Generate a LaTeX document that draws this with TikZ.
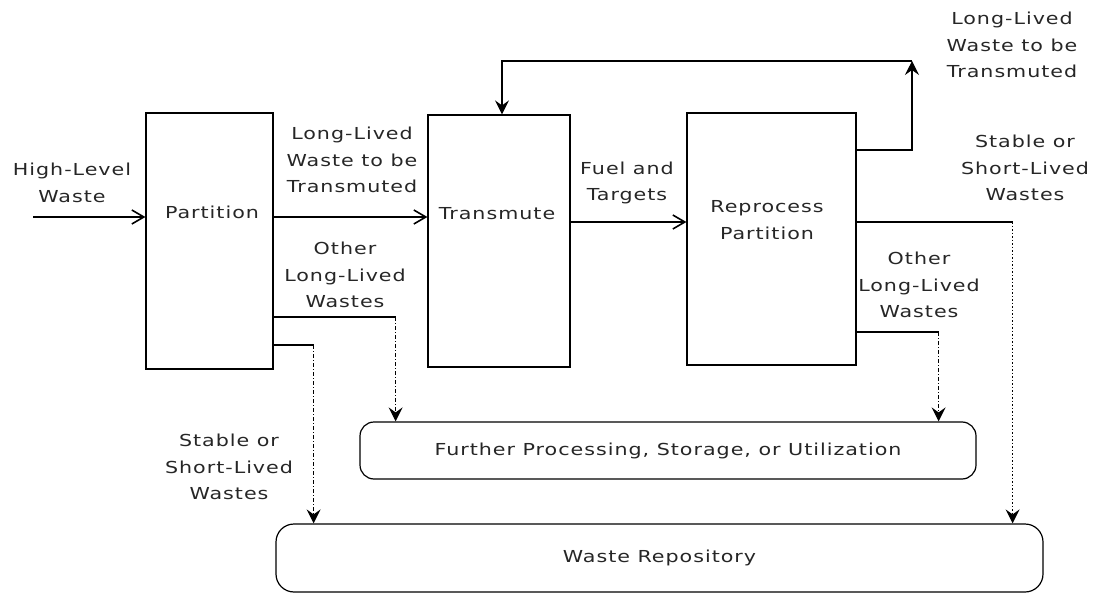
\documentclass[tikz,border=0pt]{standalone}
\usepackage{fontspec}
\setmainfont{DejaVu Sans}[FakeStretch=1.25,LetterSpace=6]
\usetikzlibrary{arrows.meta,positioning}

\tikzset{
  unitbox/.style={draw, rectangle, inner sep=0pt, line width=1.2pt},
  store/.style={draw, rectangle, rounded corners=14pt, inner sep=0pt, line width=1.2pt,
    font=\fontsize{16.5}{26.5}\selectfont, text=black!85},
  lbl/.style={align=center, font=\fontsize{16.5}{26.5}\selectfont, text=black!85},
  flow/.style={line width=1.2pt, -{Straight Barb[length=12pt,width=14pt,line width=1.6pt]}},
  rise/.style={line width=1.2pt, -{Stealth[length=14pt,width=14pt,inset=5pt]}},
  line/.style={line width=1.2pt},
  drop/.style={line width=1.2pt, dash pattern=on 4pt off 2pt on 1pt off 2pt,
    -{Stealth[length=14pt,width=14pt,inset=5pt]}},
}

\begin{document}
\begin{tikzpicture}[x=1pt, y=-1pt]
\useasboundingbox (0,0) rectangle (1104,594);

% process units
\node[unitbox, minimum width=127pt, minimum height=256pt] (part) at (209.5,241) {};
\node[unitbox, minimum width=142pt, minimum height=252pt] (trans) at (499,241) {};
\node[unitbox, minimum width=169pt, minimum height=252pt] (rep) at (771.5,239) {};
\node[lbl] (partlbl) at (212,212) {Partition};
\node[lbl] (translbl) at (497,214) {Transmute};
\node[lbl] (replbl) at (767,220) {Reprocess\\Partition};

% end points
\node[store, minimum width=616pt, minimum height=57pt] (further) at (668,450.5)
  {Further Processing, Storage, or Utilization};
\node[store, rounded corners=18pt, minimum width=767pt, minimum height=68pt] (repo) at (659.5,558)
  {Waste Repository};

% stream labels
\node[lbl] (hlw) at (72,183) {High-Level\\Waste};
\node[lbl] (ltrans) at (352,160) {Long-Lived\\Waste to be\\Transmuted};
\node[lbl] (lother) at (345,275) {Other\\Long-Lived\\Wastes};
\node[lbl] (fuel) at (627,183) {Fuel and\\Targets};
\node[lbl] (rtrans) at (1012,45) {Long-Lived\\Waste to be\\Transmuted};
\node[lbl] (rstable) at (1025,168) {Stable or\\Short-Lived\\Wastes};
\node[lbl] (rother) at (919,285) {Other\\Long-Lived\\Wastes};
\node[lbl] (lstable) at (229,467) {Stable or\\Short-Lived\\Wastes};

% main line
\coordinate (src) at (33,217);
\draw[flow] (src) -- (src -| part.west);
\draw[flow] (src -| part.east) -- (src -| trans.west);
\draw[flow] ([yshift=19pt]trans.east) -- ([yshift=19pt]trans.east -| rep.west);

% recycle loop
\coordinate (loop) at (912,61);
\draw[rise] ([yshift=89pt]rep.east) -| (loop);
\draw[rise] (loop) -| ([xshift=3pt]trans.north);

% side streams
\draw[line] ([yshift=-76pt]part.east) -- ++(122,0) coordinate (pa);
\draw[drop] (pa) -- (pa |- further.north);
\draw[line] ([yshift=-104pt]part.east) -- ++(40,0) coordinate (pb);
\draw[drop] (pb) -- (pb |- repo.north);
\draw[line] ([yshift=-93pt]rep.east) -- ++(82,0) coordinate (ra);
\draw[drop] (ra) -- (ra |- further.north);
\draw[line] ([yshift=17pt]rep.east) -- ++(156,0) coordinate (rb);
\draw[drop, dash pattern=on 1.5pt off 2pt] (rb) -- (rb |- repo.north);
\end{tikzpicture}
\end{document}
